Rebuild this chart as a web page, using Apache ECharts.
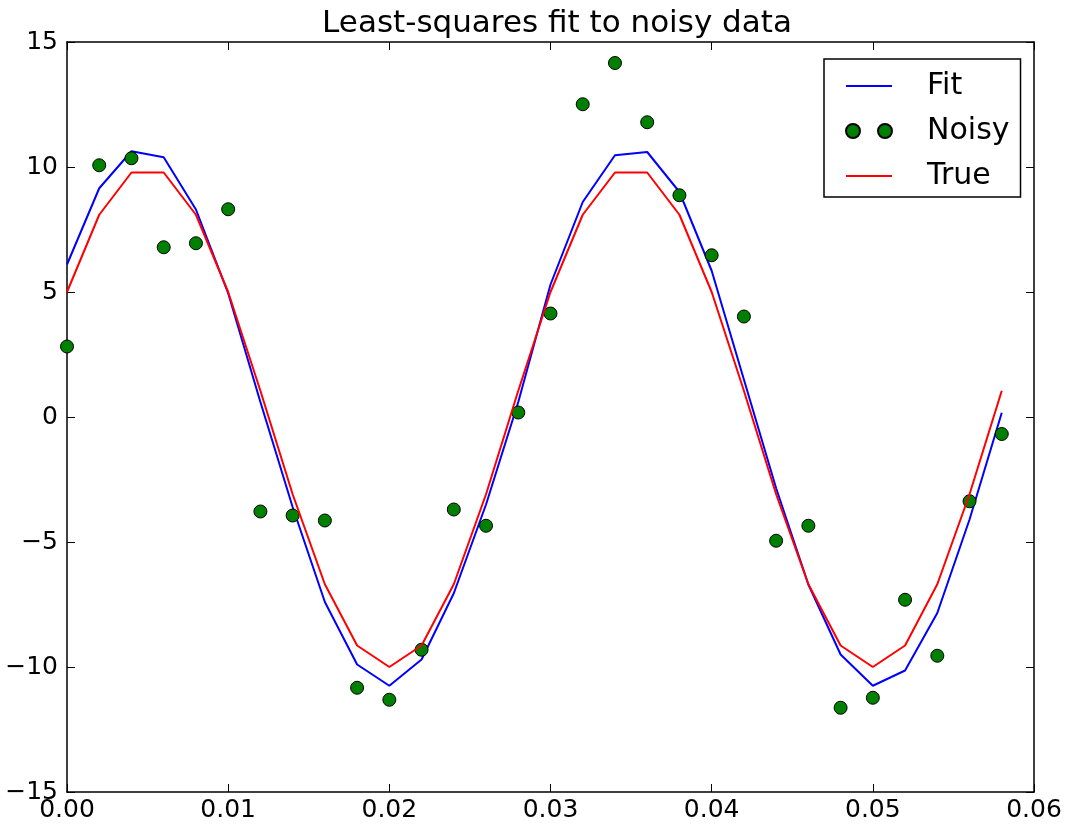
<!DOCTYPE html>
<html>
<head>
<meta charset="utf-8">
<script src="https://cdn.jsdelivr.net/npm/echarts@6/dist/echarts.min.js"></script>
<style>
html,body{margin:0;padding:0;background:#fff;}
#c{width:1069px;height:825px;}
</style>
</head>
<body>
<div id="c"></div>
<script>
const xs = [0.000,0.002,0.004,0.006,0.008,0.010,0.012,0.014,0.016,0.018,
            0.020,0.022,0.024,0.026,0.028,0.030,0.032,0.034,0.036,0.038,
            0.040,0.042,0.044,0.046,0.048,0.050,0.052,0.054,0.056,0.058];
const fitVals = [6.1,9.15,10.63,10.39,8.3,4.95,0.6,-3.6,-7.4,-9.9,
                 -10.75,-9.7,-7.05,-3.5,0.6,5.3,8.6,10.47,10.6,9.0,
                 5.85,1.5,-2.85,-6.7,-9.5,-10.75,-10.14,-7.84,-4.1,0.17];
const noisyVals = [2.82,10.07,10.35,6.79,6.95,8.31,-3.78,-3.94,-4.14,-10.83,
                   -11.31,-9.31,-3.70,-4.35,0.18,4.14,12.51,14.16,11.79,8.87,
                   6.47,4.02,-4.95,-4.35,-11.63,-11.23,-7.31,-9.55,-3.37,-0.68];
const trueVals = [5.0,8.09,9.78,9.78,8.09,5.0,1.05,-3.09,-6.69,-9.14,
                  -10.0,-9.14,-6.69,-3.09,1.05,5.0,8.09,9.78,9.78,8.09,
                  5.0,1.05,-3.09,-6.69,-9.14,-10.0,-9.14,-6.69,-3.09,1.05];
const xTicks = {min:0, max:0.06, interval:0.01};
const yTicks = {min:-15, max:15, interval:5};
const titleText = 'Least-squares fit to noisy data';

const FONT = 'DejaVu Sans';
const pair = arr => xs.map((x,i)=>[x, arr[i]]);
const minus = s => String(s).replace('-', '\u2212');

const axisLine = {show:true, onZero:false, lineStyle:{color:'#000', width:1.5}};
const tickIn = {show:true, inside:true, length:8, lineStyle:{color:'#000', width:1}};
const lineIcon = 'path://M0,0L46,0L46,2L0,2Z';
const dotsIcon = 'path://M0,7a7,7 0 1,0 14,0a7,7 0 1,0 -14,0M32,7a7,7 0 1,0 14,0a7,7 0 1,0 -14,0';

const chart = echarts.init(document.getElementById('c'), null, {renderer:'canvas'});
chart.setOption({
  animation:false,
  backgroundColor:'#fff',
  title:{
    text:titleText, left:552, textAlign:'center', top:3,
    textStyle:{fontFamily:FONT, fontSize:31, fontWeight:'normal', color:'#000'}
  },
  grid:{left:67, right:35, top:42, bottom:33, containLabel:false},
  xAxis:[
    {type:'value', position:'bottom', min:xTicks.min, max:xTicks.max, interval:xTicks.interval,
     axisLine:axisLine, axisTick:tickIn, splitLine:{show:false},
     axisLabel:{fontFamily:FONT, fontSize:25, color:'#000', margin:6,
       formatter:v=>v.toFixed(2)}},
    {type:'value', position:'top', min:xTicks.min, max:xTicks.max, interval:xTicks.interval,
     axisLine:axisLine, axisTick:tickIn, splitLine:{show:false}, axisLabel:{show:false}}
  ],
  yAxis:[
    {type:'value', position:'left', min:yTicks.min, max:yTicks.max, interval:yTicks.interval,
     axisLine:axisLine, axisTick:tickIn, splitLine:{show:false},
     axisLabel:{fontFamily:FONT, fontSize:25, color:'#000', margin:9,
       formatter:v=>minus(v)}},
    {type:'value', position:'right', min:yTicks.min, max:yTicks.max, interval:yTicks.interval,
     axisLine:axisLine, axisTick:tickIn, splitLine:{show:false}, axisLabel:{show:false}}
  ],
  legend:{
    orient:'vertical', left:824, top:59,
    padding:[12,11,6,21],
    borderColor:'#000', borderWidth:1.5, backgroundColor:'#fff',
    itemWidth:46, itemHeight:14, itemGap:15,
    textStyle:{fontFamily:FONT, fontSize:30, color:'#000', lineHeight:30, padding:[0,0,0,30]},
    data:[
      {name:'Fit', icon:lineIcon},
      {name:'Noisy', icon:dotsIcon},
      {name:'True', icon:lineIcon}
    ]
  },
  series:[
    {name:'Fit', type:'line', data:pair(fitVals), symbol:'none', silent:true,
     lineStyle:{color:'#0000ff', width:2}, itemStyle:{color:'#0000ff'}, z:2},
    {name:'Noisy', type:'scatter', data:pair(noisyVals), symbol:'circle', symbolSize:13,
     itemStyle:{color:'#008000', borderColor:'#000', borderWidth:1, opacity:1}, z:3},
    {name:'True', type:'line', data:pair(trueVals), symbol:'none', silent:true,
     lineStyle:{color:'#ff0000', width:2}, itemStyle:{color:'#ff0000'}, z:4}
  ]
});
</script>
</body>
</html>
